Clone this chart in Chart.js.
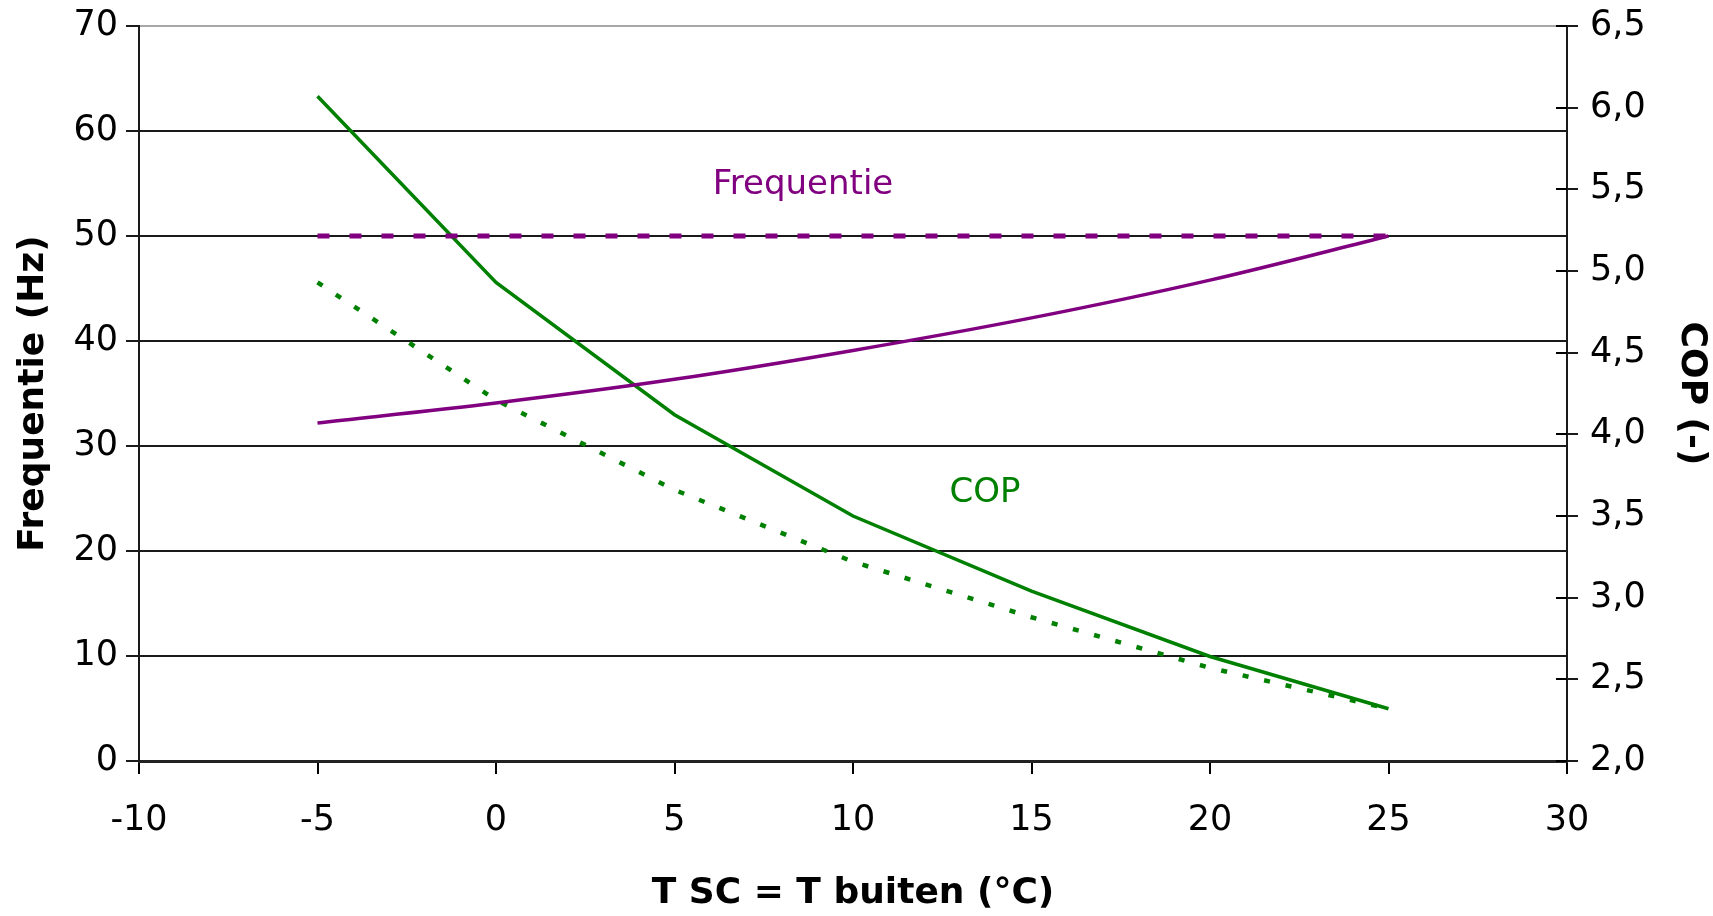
<!DOCTYPE html>
<html>
<head>
<meta charset="utf-8">
<script src="https://cdn.jsdelivr.net/npm/chart.js@4/dist/chart.umd.min.js"></script>
<style>
  html, body { margin: 0; padding: 0; background: #fff; }
  #wrap { width: 1713px; height: 916px; }
</style>
</head>
<body>
<div id="wrap"><canvas id="c" width="1713" height="916"></canvas></div>
<script>
// outside temperature (°C)
const temps = [-5, 0, 5, 10, 15, 20, 25];

// compressor frequency (Hz), left axis
const freqCurve = [32.2, 34.1, 36.35, 39.1, 42.2, 45.8, 50.0];
const freqFixed = [50, 50, 50, 50, 50, 50, 50];

// COP (-), right axis
const copCurve = [6.07, 4.93, 4.12, 3.50, 3.04, 2.64, 2.32];
const copFixed = [4.93, 4.21, 3.66, 3.22, 2.88, 2.57, 2.32];

// tick ranges
const xTicks = { min: -10, max: 30, step: 5 };
const hzTicks = { min: 0, max: 70, step: 10 };
const copTicks = { min: 2.0, max: 6.5, step: 0.5 };

const PURPLE = '#800080';
const GREEN = '#008000';
const FONT = 'DejaVu Sans';

const pts = (ys) => temps.map((t, i) => ({ x: t, y: ys[i] }));

// in-plot text labels, anchored on the data scales
const seriesLabels = [
  { text: 'Frequentie', x: 8.6, y: 54.8, color: PURPLE },
  { text: 'COP', x: 13.7, y: 25.5, color: GREEN },
];

const labelPlugin = {
  id: 'seriesLabels',
  afterDatasetsDraw(chart) {
    const { ctx, scales } = chart;
    ctx.save();
    ctx.font = `34px "${FONT}"`;
    ctx.textAlign = 'center';
    ctx.textBaseline = 'middle';
    seriesLabels.forEach(l => {
      ctx.fillStyle = l.color;
      ctx.fillText(l.text, scales.x.getPixelForValue(l.x), scales.y.getPixelForValue(l.y));
    });
    ctx.restore();
  },
};

// right axis tick marks cross the axis line (inner half)
const crossTicks = {
  id: 'crossTicks',
  afterDraw(chart) {
    const { ctx, chartArea } = chart;
    const s = chart.scales.y2;
    ctx.save();
    ctx.strokeStyle = '#000';
    ctx.lineWidth = 2;
    s.ticks.forEach(t => {
      const y = Math.round(s.getPixelForValue(t.value));
      ctx.beginPath();
      ctx.moveTo(chartArea.right - 11, y);
      ctx.lineTo(chartArea.right, y);
      ctx.stroke();
    });
    ctx.restore();
  },
};

// fixed box sizes so the plot area sits where the original has it
const fitY = w => s => { s.width = w; s.paddingTop = 0; s.paddingBottom = 0; };

new Chart(document.getElementById('c'), {
  type: 'line',
  data: {
    datasets: [
      { data: pts(freqFixed), yAxisID: 'y', borderColor: PURPLE, borderWidth: 5, borderDash: [12, 20], pointRadius: 0, tension: 0 },
      { data: pts(freqCurve), yAxisID: 'y', borderColor: PURPLE, borderWidth: 3.5, pointRadius: 0, cubicInterpolationMode: 'monotone' },
      { data: pts(copFixed), yAxisID: 'y2', borderColor: GREEN, borderWidth: 4.5, borderDash: [6, 16], pointRadius: 0, tension: 0 },
      { data: pts(copCurve), yAxisID: 'y2', borderColor: GREEN, borderWidth: 3.5, pointRadius: 0, tension: 0 },
    ],
  },
  options: {
    responsive: false,
    animation: false,
    devicePixelRatio: 1,
    layout: { padding: { top: 26, left: 0, right: 0, bottom: 0 } },
    plugins: { legend: { display: false }, tooltip: { enabled: false } },
    scales: {
      x: {
        type: 'linear',
        min: xTicks.min, max: xTicks.max,
        afterFit: s => { s.height = 155; },
        ticks: { stepSize: xTicks.step, color: '#000', padding: 26, font: { family: FONT, size: 35 } },
        grid: { drawOnChartArea: false, color: '#000', tickLength: 13, lineWidth: 2 },
        border: { color: '#222', width: 3 },
        title: { display: true, text: 'T SC = T buiten (°C)', color: '#000', padding: { top: 0, bottom: 1 }, font: { family: FONT, size: 36, weight: 'bold' } },
      },
      y: {
        position: 'left',
        min: hzTicks.min, max: hzTicks.max,
        afterFit: fitY(139),
        ticks: { stepSize: hzTicks.step, color: '#000', padding: 8, font: { family: FONT, size: 35 } },
        grid: { color: c => (c.tick && c.tick.value === hzTicks.max ? '#a8a8a8' : '#1a1a1a'), tickColor: '#1a1a1a', tickLength: 13, lineWidth: 2 },
        border: { color: '#1a1a1a', width: 2 },
        title: { display: true, text: 'Frequentie (Hz)', color: '#000', padding: { top: 12, bottom: 0 }, font: { family: FONT, size: 36, weight: 'bold' } },
      },
      y2: {
        position: 'right',
        min: copTicks.min, max: copTicks.max,
        afterFit: fitY(146),
        ticks: { stepSize: copTicks.step, color: '#000', padding: 12, font: { family: FONT, size: 35 },
                 callback: v => v.toFixed(1).replace('.', ',') },
        grid: { drawOnChartArea: false, color: '#1a1a1a', tickLength: 11, lineWidth: 2 },
        border: { color: '#1a1a1a', width: 2 },
        title: { display: true, text: 'COP (-)', color: '#000', padding: { top: 0, bottom: 0 }, font: { family: FONT, size: 36, weight: 'bold' } },
      },
    },
  },
  plugins: [labelPlugin, crossTicks],
});
</script>
</body>
</html>
